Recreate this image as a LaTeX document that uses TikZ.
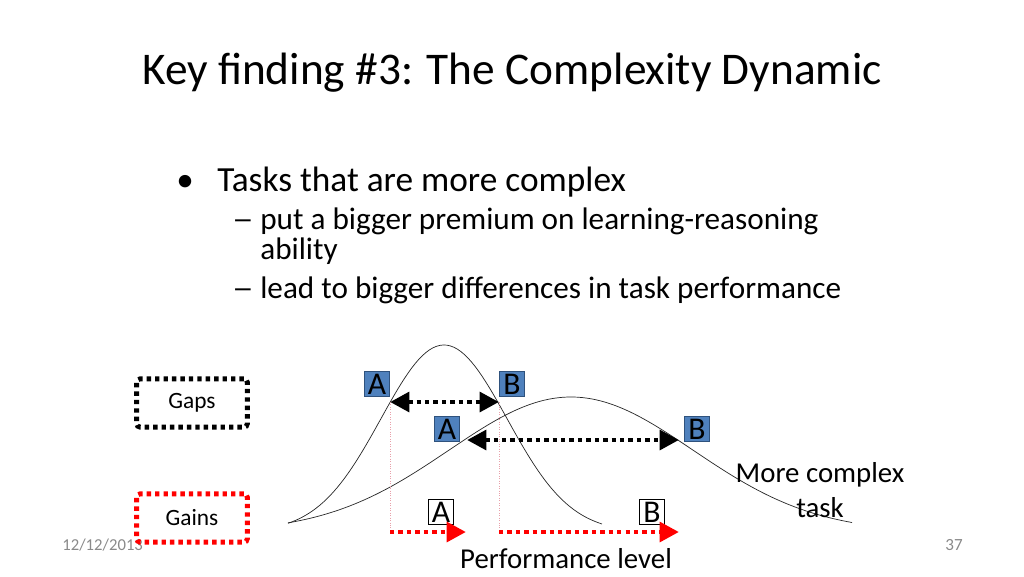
\documentclass[tikz,border=0pt]{standalone}
\usepackage{fontspec}
\usepackage{graphicx}
\setmainfont{Carlito}
\usetikzlibrary{arrows.meta}

\definecolor{boxblue}{RGB}{79,129,189}
\definecolor{boxline}{RGB}{47,82,125}
\definecolor{footgray}{RGB}{137,137,137}
\definecolor{guidepink}{RGB}{232,160,170}

\newcommand{\subdash}{\scalebox{0.68}[1]{\textemdash}}

\begin{document}
\begin{tikzpicture}[x=0.02cm, y=-0.02cm,
  dotline/.style={line width=2.8pt, dash pattern=on 2.5pt off 2.3pt},
  bigtip/.style={-{Triangle[length=11pt,width=11pt]}},
  bothtips/.style={{Triangle[length=11pt,width=11pt]}-{Triangle[length=11pt,width=11pt]}},
  legendbox/.style={dotline, rounded corners=2pt, minimum width=63pt, minimum height=27.5pt, font=\fontsize{13.3}{15}\selectfont},
  letterbox/.style={draw=boxline, fill=boxblue, minimum width=14.5pt, minimum height=14.5pt, inner sep=0pt, font=\fontsize{18}{18}\selectfont},
  plainbox/.style={draw, minimum width=14.5pt, minimum height=14.5pt, inner sep=0pt, font=\fontsize{18}{18}\selectfont},
  curve/.style={line width=0.4pt, black!85}]

\useasboundingbox (0,0) rectangle (1024,576);

% Title and bullets
\node (title) at (512,73) {\fontsize{25.8}{30}\selectfont Key finding \#3: The Complexity Dynamic};
\node[anchor=base] (dot) at (185,191) {\fontsize{20}{22}\selectfont\textbullet};
\node[anchor=base west, inner sep=0pt] (main) at (217,191) {\fontsize{20.1}{22}\selectfont Tasks that are more complex};
\node[anchor=base west, inner sep=0pt] (dashone) at (233,229) {\fontsize{17.75}{20}\selectfont\subdash};
\node[anchor=base west, inner sep=0pt, text depth=0pt] (subone) at (260,229) {\fontsize{17.75}{20}\selectfont put a bigger premium on learning-reasoning};
\node[anchor=base west, inner sep=0pt] (subonb) at (260,259) {\fontsize{17.75}{20}\selectfont ability};
\node[anchor=base west, inner sep=0pt] (dashtwo) at (233,298) {\fontsize{17.75}{20}\selectfont\subdash};
\node[anchor=base west, inner sep=0pt] (subtwo) at (260,298) {\fontsize{17.75}{20}\selectfont lead to bigger differences in task performance};

% Footer
\node[anchor=base west, inner sep=0pt, text=footgray] (date) at (62,550) {\fontsize{9.5}{11}\selectfont 12/12/2013};
\node[anchor=base, text=footgray] (page) at (954,550) {\fontsize{9.7}{11}\selectfont 37};

% Legend
\node[legendbox, draw=black] (gaps) at (192,403) {Gaps};
\node[legendbox, draw=red] (gains) at (192,518) {Gains};

% Curves
\draw[curve] plot[domain=288:602, samples=90] (\x, {532-187*exp(-((\x-444)/63)^2/2)});
\draw[curve] plot[domain=288:852, samples=120] (\x, {532-135*exp(-((\x-571)/122)^2/2)});

% Points
\coordinate (gapAl) at (390,402);
\coordinate (gapBl) at (499,402);
\coordinate (gapAh) at (467,440);
\coordinate (gapBh) at (679,440);
\coordinate (gainA) at (390,532);
\coordinate (gainAend) at (466,532);
\coordinate (gainB) at (499,532);
\coordinate (gainBend) at (679,532);

% Guide lines
\draw[guidepink, densely dotted, line width=0.4pt] (gapAl) -- (gainA);
\draw[guidepink, densely dotted, line width=0.4pt] (gapBl) -- (gainB);

% Letter boxes
\node[letterbox] (Alow) at (377,384) {A};
\node[letterbox] (Blow) at (512,384) {B};
\node[letterbox] (Ahigh) at (447,429) {A};
\node[letterbox] (Bhigh) at (697,429) {B};
\node[plainbox, fill=white] (Again) at (441,512) {A};
\node[plainbox, fill=white] (Bgain) at (652,512) {B};

% Arrows
\draw[dotline, bothtips] (gapAl) -- (gapBl);
\draw[dotline, bothtips] (gapAh) -- (gapBh);
\draw[dotline, bigtip, red] (gainA) -- (gainAend);
\draw[dotline, bigtip, red] (gainB) -- (gainBend);

% Labels
\node[align=center, font=\fontsize{16.4}{19.5}\selectfont] (complex) at (820,490) {More complex\\task};
\node[anchor=base, font=\fontsize{16.4}{18}\selectfont] (perf) at (566,568) {Performance level};

\end{tikzpicture}
\end{document}
